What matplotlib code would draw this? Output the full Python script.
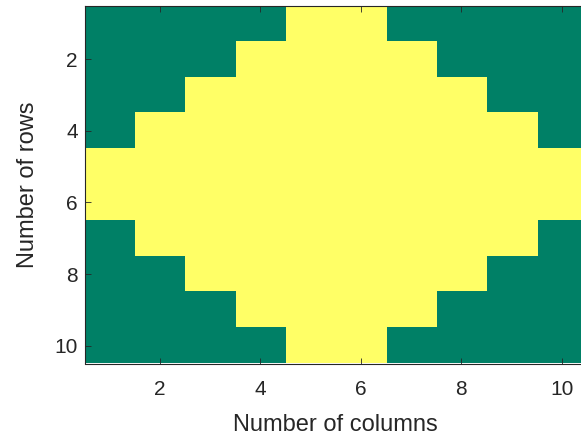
import matplotlib
matplotlib.use("Agg")
import matplotlib.pyplot as plt
import numpy as np
from matplotlib.colors import ListedColormap

rows = [1, 2, 3, 4, 5, 6, 7, 8, 9, 10]
cols = [1, 2, 3, 4, 5, 6, 7, 8, 9, 10]
grid = [
    [0, 0, 0, 0, 1, 1, 0, 0, 0, 0],
    [0, 0, 0, 1, 1, 1, 1, 0, 0, 0],
    [0, 0, 1, 1, 1, 1, 1, 1, 0, 0],
    [0, 1, 1, 1, 1, 1, 1, 1, 1, 0],
    [1, 1, 1, 1, 1, 1, 1, 1, 1, 1],
    [1, 1, 1, 1, 1, 1, 1, 1, 1, 1],
    [0, 1, 1, 1, 1, 1, 1, 1, 1, 0],
    [0, 0, 1, 1, 1, 1, 1, 1, 0, 0],
    [0, 0, 0, 1, 1, 1, 1, 0, 0, 0],
    [0, 0, 0, 0, 1, 1, 0, 0, 0, 0],
]
xticks = [2, 4, 6, 8, 10]
yticks = [2, 4, 6, 8, 10]

plt.rcParams['font.family'] = ['Liberation Sans', 'DejaVu Sans']
W, H = 581, 441
fig = plt.figure(figsize=(W / 100, H / 100), dpi=100)
left, right, top, bottom = 84.7, 586.8, 5.7, 363.5
ax = fig.add_axes([left / W, 1 - bottom / H, (right - left) / W, (bottom - top) / H])
cmap = ListedColormap(['#008066', '#FFFF66'])
ax.imshow(np.array(grid), cmap=cmap, aspect='auto', interpolation='nearest',
          extent=[cols[0] - 0.5, cols[-1] + 0.5, rows[-1] + 0.5, rows[0] - 0.5])
ax.set_xticks(xticks)
ax.set_yticks(yticks)
ax.tick_params(direction='in', top=True, right=True, length=4, width=0.6,
               labelsize=15, colors='#262626')
ax.tick_params(axis='x', pad=12)
ax.tick_params(axis='y', pad=5)
for s in ax.spines.values():
    s.set_color('#262626')
    s.set_linewidth(0.8)
ax.set_xlabel('Number of columns', fontsize=17, color='#262626', labelpad=11)
ax.set_ylabel('Number of rows', fontsize=17, color='#262626', labelpad=11)
fig.savefig('out.png', dpi=100)
